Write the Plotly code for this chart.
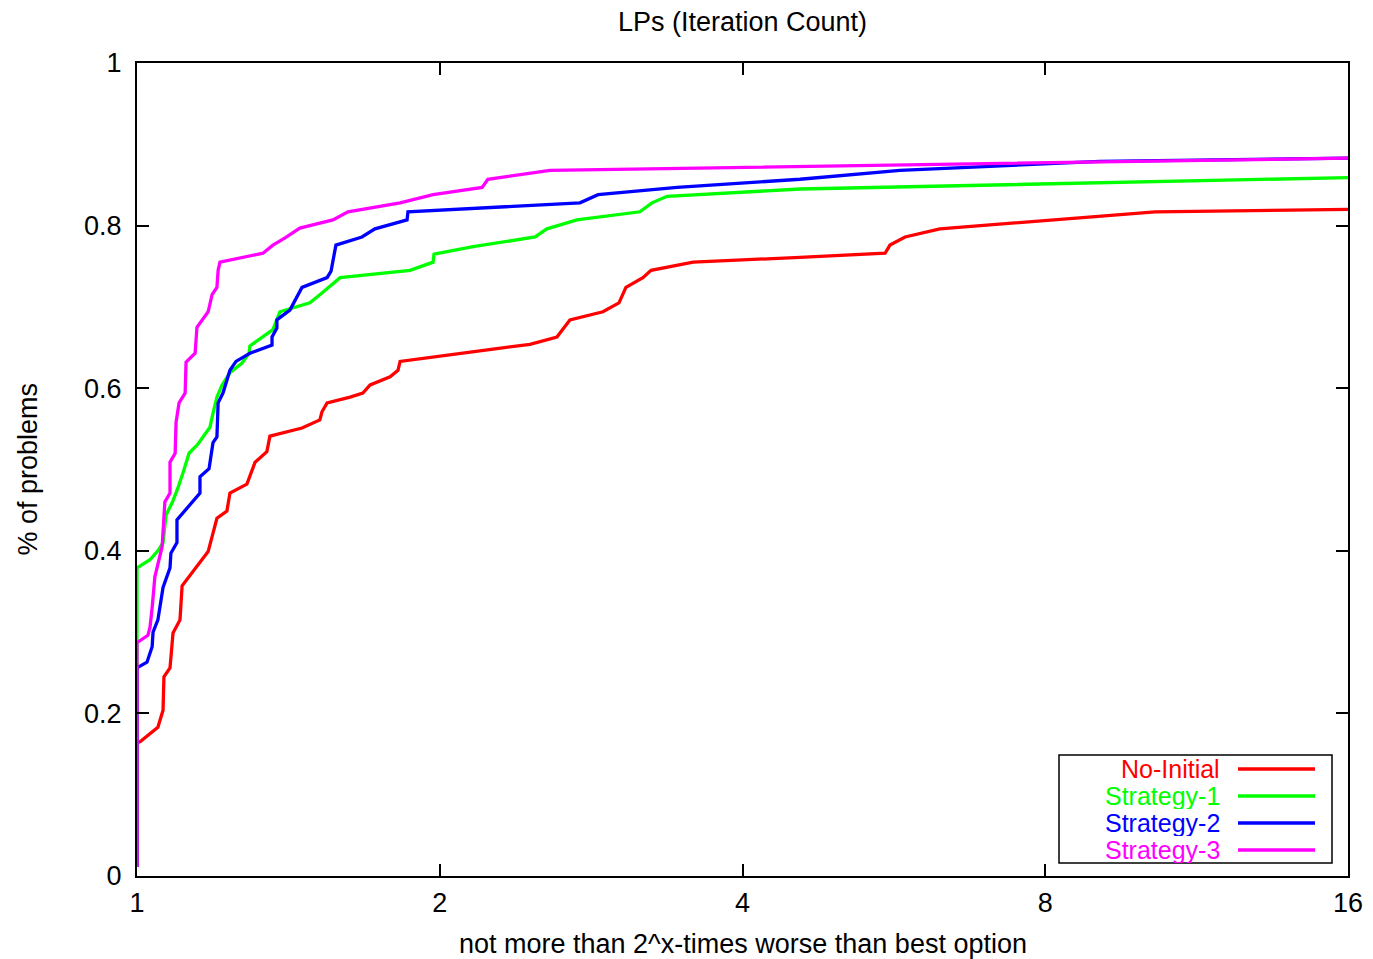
import plotly.graph_objects as go

# x values are log2 of the performance ratio (axis labelled 1,2,4,8,16)
no_init_x = [0, 0, 0.010, 0.069, 0.086, 0.089, 0.109, 0.119, 0.142, 0.149, 0.235, 0.264, 0.297, 0.307,
             0.363, 0.390, 0.429, 0.439, 0.545, 0.604, 0.611, 0.628, 0.704, 0.746, 0.770, 0.836, 0.862,
             0.869, 1.176, 1.298, 1.387, 1.430, 1.539, 1.592, 1.615, 1.671, 1.698, 1.837, 2.190, 2.471,
             2.487, 2.537, 2.652, 3.363, 4.0]
no_init_y = [0.011, 0.164, 0.165, 0.183, 0.204, 0.245, 0.256, 0.299, 0.315, 0.357, 0.399, 0.440, 0.449, 0.471,
             0.482, 0.509, 0.522, 0.541, 0.551, 0.561, 0.571, 0.582, 0.589, 0.594, 0.604, 0.614, 0.622,
             0.633, 0.648, 0.654, 0.663, 0.684, 0.694, 0.705, 0.724, 0.736, 0.745, 0.755, 0.761, 0.766,
             0.776, 0.786, 0.796, 0.817, 0.820]

s1_x = [0, 0, 0, 0.043, 0.069, 0.086, 0.096, 0.116, 0.135, 0.152, 0.172, 0.201, 0.241, 0.251, 0.264,
        0.281, 0.307, 0.347, 0.370, 0.373, 0.449, 0.472, 0.571, 0.604, 0.671, 0.902, 0.978, 0.981, 1.110,
        1.315, 1.354, 1.453, 1.661, 1.701, 1.751, 2.190, 4.0]
s1_y = [0.011, 0.288, 0.379, 0.389, 0.400, 0.410, 0.444, 0.459, 0.477, 0.496, 0.520, 0.531, 0.552, 0.569,
        0.589, 0.604, 0.619, 0.631, 0.643, 0.652, 0.672, 0.694, 0.705, 0.715, 0.736, 0.745, 0.755, 0.765,
        0.774, 0.786, 0.796, 0.807, 0.817, 0.828, 0.836, 0.845, 0.859]

s2_x = [0, 0, 0.033, 0.050, 0.053, 0.069, 0.086, 0.109, 0.112, 0.132, 0.132, 0.175, 0.208, 0.208, 0.238,
        0.251, 0.264, 0.268, 0.284, 0.307, 0.327, 0.373, 0.446, 0.446, 0.462, 0.462, 0.505, 0.545, 0.628,
        0.641, 0.657, 0.743, 0.786, 0.892, 0.895, 1.463, 1.523, 1.784, 2.190, 2.520, 3.181, 4.0]
s2_y = [0.011, 0.256, 0.263, 0.282, 0.300, 0.315, 0.355, 0.379, 0.397, 0.410, 0.438, 0.456, 0.471, 0.491,
        0.501, 0.533, 0.540, 0.582, 0.594, 0.622, 0.633, 0.643, 0.653, 0.663, 0.674, 0.684, 0.696, 0.724,
        0.736, 0.744, 0.776, 0.786, 0.796, 0.807, 0.817, 0.828, 0.838, 0.847, 0.857, 0.868, 0.879, 0.883]

s3_x = [0, 0, 0.036, 0.043, 0.050, 0.059, 0.083, 0.092, 0.109, 0.109, 0.126, 0.129, 0.139, 0.159, 0.162,
        0.192, 0.198, 0.235, 0.248, 0.264, 0.268, 0.274, 0.416, 0.449, 0.489, 0.538, 0.647, 0.697, 0.869,
        0.978, 1.140, 1.159, 1.364, 2.190, 4.0]
s3_y = [0.011, 0.287, 0.296, 0.306, 0.330, 0.368, 0.405, 0.460, 0.471, 0.509, 0.520, 0.558, 0.582, 0.594,
        0.632, 0.643, 0.675, 0.694, 0.715, 0.724, 0.745, 0.755, 0.766, 0.776, 0.785, 0.797, 0.807, 0.817,
        0.828, 0.838, 0.847, 0.857, 0.868, 0.873, 0.883]

series_names = ["No-Initial", "Strategy-1", "Strategy-2", "Strategy-3"]
series_colors = ["#ff0000", "#00ff00", "#0000ff", "#ff00ff"]
series_data = [(no_init_x, no_init_y), (s1_x, s1_y), (s2_x, s2_y), (s3_x, s3_y)]

x_tickvals = [0, 1, 2, 3, 4]
x_ticktext = ["1", "2", "4", "8", "16"]
y_tickvals = [0, 0.2, 0.4, 0.6, 0.8, 1]
y_ticktext = ["0", "0.2", "0.4", "0.6", "0.8", "1"]

FONT = "Liberation Sans, Arial, sans-serif"
FS = 27
LEG_FS = 25

fig = go.Figure()
for name, color, (xs, ys) in zip(series_names, series_colors, series_data):
    fig.add_trace(go.Scatter(x=xs, y=ys, mode="lines", name=name,
                             line=dict(color=color, width=3.3), showlegend=False))

W, H = 1373, 959
L, R, T, B = 137, 25, 63, 83

fig.update_layout(
    width=W, height=H,
    margin=dict(l=L, r=R, t=T, b=B, autoexpand=False),
    paper_bgcolor="white", plot_bgcolor="white",
    font=dict(family=FONT, size=FS, color="black"),
    title=dict(text="LPs (Iteration Count)", x=0.5, xanchor="center", xref="paper",
               y=1 - 22 / H, yanchor="middle", yref="container",
               font=dict(family=FONT, size=FS, color="black")),
    showlegend=False,
)
fig.update_xaxes(range=[0, 4], tickvals=x_tickvals, ticktext=x_ticktext,
                 showgrid=False, zeroline=False, showline=True, linecolor="black", linewidth=2,
                 mirror="allticks", ticks="inside", ticklen=12, tickwidth=1.5, tickcolor="black",
                 ticklabelstandoff=2,
                 tickfont=dict(family=FONT, size=FS, color="black"))
fig.update_yaxes(range=[0, 1], tickvals=y_tickvals, ticktext=y_ticktext,
                 showgrid=False, zeroline=False, showline=True, linecolor="black", linewidth=2,
                 mirror="allticks", ticks="inside", ticklen=12, tickwidth=1.5, tickcolor="black",
                 ticklabelstandoff=8,
                 tickfont=dict(family=FONT, size=FS, color="black"))

pw, ph = W - L - R, H - T - B
annotations = [
    dict(text="not more than 2^x-times worse than best option", xref="paper", yref="paper",
         x=0.5, y=0, yshift=-(944 - 876), xanchor="center", yanchor="middle", showarrow=False,
         font=dict(family=FONT, size=FS, color="black")),
    dict(text="% of problems", xref="paper", yref="paper", x=0, y=0.5, xshift=-(137 - 27),
         xanchor="center", yanchor="middle", textangle=-90, showarrow=False,
         font=dict(family=FONT, size=FS, color="black")),
]

# legend box drawn in gnuplot style (text right-aligned, sample line on the right)
shapes = [dict(type="rect", xref="paper", yref="paper",
               x0=(1059 - L) / pw, x1=(1332 - L) / pw, y0=(876 - 863) / ph, y1=(876 - 755) / ph,
               line=dict(color="black", width=1.5), fillcolor="rgba(0,0,0,0)", layer="above")]
legend_rows = [769, 796, 823, 850]
for name, color, py in zip(series_names, series_colors, legend_rows):
    yp = (876 - py) / ph
    annotations.append(dict(text=name, xref="paper", yref="paper", x=(1222 - L) / pw, y=yp,
                            xanchor="right", yanchor="middle", showarrow=False, height=26,
                            font=dict(family=FONT, size=LEG_FS, color=color)))
    shapes.append(dict(type="line", xref="paper", yref="paper",
                       x0=(1238 - L) / pw, x1=(1315 - L) / pw, y0=yp, y1=yp,
                       line=dict(color=color, width=3.3)))

fig.update_layout(annotations=annotations, shapes=shapes)
fig.write_html("out.html")
